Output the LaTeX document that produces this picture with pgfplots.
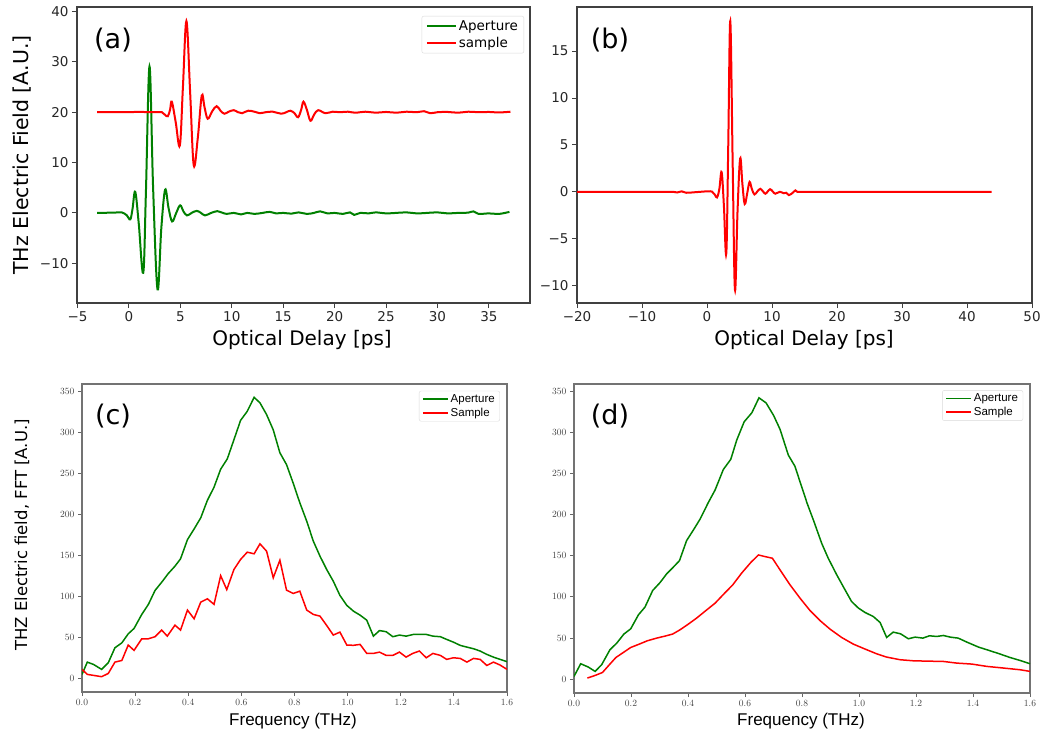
\documentclass[border=0pt]{standalone}
\usepackage{fontspec}
\newfontfamily\djv{DejaVu Sans}
\newfontfamily\lib{Liberation Sans}
\usepackage{pgfplots}
\pgfplotsset{compat=1.18}

\pgfplotsset{
  timepanel/.style={scale only axis, anchor=south west,
    axis line style={black!75, line width=1.1pt},
    tick style={black!75, line width=1pt}, tick align=outside,
    major tick length=5pt, tick pos=left,
    ticklabel style={font=\djv\fontsize{13.5}{16}\selectfont, text=black!85},
    legend cell align=left,
    legend image code/.code={\draw[##1] (0pt,0pt) -- (29pt,0pt);},
    legend style={font=\djv\fontsize{13.5}{15}\selectfont, draw=black!15,
      rounded corners=2pt, inner xsep=4pt, inner ysep=2.5pt, row sep=1pt}},
  fftpanel/.style={scale only axis, anchor=south west,
    axis line style={black!55, line width=1.1pt},
    tick style={black!60, line width=0.8pt}, tick align=outside,
    major tick length=4pt, tick pos=left,
    ticklabel style={font=\rmfamily\fontsize{9.5}{11}\selectfont, text=black!75},
    xtick={0,0.2,...,1.6}, xticklabels={0.0,0.2,0.4,0.6,0.8,1.0,1.2,1.4,1.6},
    ytick={0,50,...,350}, yticklabels={0,50,100,150,200,250,300,350},
    xmin=0, xmax=1.6, ymin=-17, ymax=359,
    legend cell align=left,
    legend image code/.code={\draw[##1] (0pt,0pt) -- (25pt,0pt);},
    legend style={font=\lib\fontsize{11.5}{13}\selectfont, draw=black!15,
      rounded corners=2pt, inner xsep=3pt, inner ysep=1.5pt, row sep=0pt}},
}
\definecolor{mgreen}{HTML}{008000}
\definecolor{mred}{HTML}{FF0000}

\begin{document}
\begin{tikzpicture}[x=1pt,y=1pt]
\path[use as bounding box] (0pt,0pt) rectangle (1043pt,740pt);

% (a) time traces
\begin{axis}[timepanel, at={(77pt,437pt)}, width=453pt, height=296pt,
  xmin=-5.05, xmax=39.0, ymin=-17.9, ymax=40.9,
  xtick={-5,0,...,35}, xticklabels={−5,0,5,10,15,20,25,30,35},
  ytick={-10,0,...,40}, yticklabels={−10,0,10,20,30,40},
  legend style={at={(0.987,0.97)}, anchor=north east}]
\addplot[mgreen, line width=2pt, smooth, tension=0.6] coordinates {
(-3.1,0) (-1.5,0.05) (-0.7,0.1) (-0.2,-0.5) (0.13,-1.3) (0.35,0.8) (0.61,4.2)
(0.95,-2) (1.39,-11.9) (1.65,4) (2.0,29.1) (2.35,5) (2.78,-15.2) (3.15,-3)
(3.52,4.6) (3.85,1) (4.2,-1.7) (4.6,0) (4.98,1.5) (5.3,0.3) (5.65,-0.5) (6.1,0)
(6.6,0.4) (7.0,0) (7.4,-0.5) (8.0,0) (8.6,0.35) (9.0,0.1) (9.5,-0.2) (10.2,0)
(10.9,-0.3) (11.5,0) (12.2,-0.2) (13.0,0) (13.7,0.2) (14.3,-0.1) (15.0,0)
(15.8,-0.15) (16.5,0.1) (17.3,-0.2) (18.0,0) (18.6,0.3) (19.3,-0.1) (20.0,0)
(20.8,-0.2) (21.5,0.1) (21.9,-0.4) (22.5,0) (23.3,-0.1) (24.0,0.1) (25.0,-0.1)
(26.0,0) (27.0,0.1) (28.0,-0.1) (29.0,0) (30.0,0.1) (31.0,-0.1) (32.0,0)
(33.0,0.05) (33.5,0.3) (34.0,-0.2) (35.0,-0.1) (36.0,-0.2) (37.0,0.2)};
\addlegendentry{Aperture}
\addplot[mred, line width=2pt, smooth, tension=0.6] coordinates {
(-3.1,20) (-1,20) (1,20.05) (2.5,20) (3.2,20) (3.5,19.5) (3.78,19.2) (4.0,20.5)
(4.17,22.1) (4.55,18) (4.95,13.4) (5.25,25) (5.59,38.1) (5.95,24) (6.3,9.5)
(6.7,15) (7.08,23.3) (7.35,21) (7.66,18.7) (8.1,20.2) (8.53,21.2) (8.9,20.3)
(9.28,19.7) (9.7,20.1) (10.2,20.4) (10.6,20) (11.0,19.8) (11.6,20.3) (12.2,20.1)
(12.7,19.8) (13.3,20) (14.0,20.1) (14.8,19.7) (15.3,20) (15.7,20.3) (16.1,19.8)
(16.45,19.0) (16.75,20.5) (16.97,22.1) (17.3,20.5) (17.65,18.3) (18.0,19.5)
(18.4,20.4) (19.1,19.8) (19.8,20.1) (20.5,20) (21.3,20.1) (22.0,19.9) (23.0,20.1)
(24.0,19.9) (25.0,20.05) (26.0,19.9) (27.0,20.1) (28.0,20) (28.7,20.2) (29.3,19.8)
(30.0,20) (31.0,20.05) (32.0,19.9) (33.0,20.1) (34.0,20) (35.0,20.05) (36.0,19.95)
(37.1,20.1)};
\addlegendentry{sample}
\end{axis}

% (b) sample trace
\begin{axis}[timepanel, at={(577pt,437pt)}, width=455pt, height=296pt,
  xmin=-20, xmax=50, ymin=-11.85, ymax=19.7,
  xtick={-20,-10,...,50}, xticklabels={−20,−10,0,10,20,30,40,50},
  ytick={-10,-5,...,15}, yticklabels={−10,−5,0,5,10,15}]
\addplot[mred, line width=2pt, smooth, tension=0.6] coordinates {
(-20,0) (-10,0) (-6,0) (-5.2,0) (-4.6,-0.07) (-3.9,0.05) (-3.2,-0.1) (-2,-0.05)
(0,0.05) (0.77,0.02) (1.2,-0.3) (1.54,-0.6) (1.9,0.3) (2.25,2.1) (2.6,-1.5)
(2.97,-6.55) (3.27,5) (3.58,18.2) (3.95,3) (4.3,-10.45) (4.7,-2) (5.1,3.55)
(5.45,0.8) (5.8,-1.3) (6.2,-0.1) (6.55,1.06) (6.9,0.3) (7.3,-0.28) (7.75,0.05)
(8.2,0.32) (8.6,0.05) (8.97,-0.2) (9.3,0) (9.7,0.28) (10.1,0.05) (10.5,-0.2)
(11.2,0) (11.8,-0.15) (12.2,-0.1) (12.6,-0.35) (13.2,-0.1) (13.6,0.15)
(13.9,0) (14.5,0) (16,0) (20,0) (30,0) (43.8,0)};
\end{axis}

% (c) FFT
\begin{axis}[fftpanel, at={(82pt,48pt)}, width=425pt, height=308pt,
  legend style={at={(0.9835,0.978)}, anchor=north east}]
\addplot[mgreen, line width=1.5pt] coordinates {
(0,4.5) (0.02,19.5) (0.043,16.7) (0.074,10.6) (0.099,18.8) (0.124,37) (0.15,43)
(0.174,54) (0.196,60.6) (0.225,77.7) (0.25,90) (0.275,107) (0.3,117) (0.325,127.7)
(0.35,136.6) (0.371,145.6) (0.397,169) (0.422,182) (0.447,195.6) (0.472,217)
(0.497,233) (0.522,255) (0.547,267.6) (0.572,291) (0.597,314.6) (0.622,325.6)
(0.648,342.7) (0.67,336) (0.695,321.6) (0.72,303) (0.745,275) (0.77,260.6)
(0.795,238) (0.82,214) (0.846,191.5) (0.871,167) (0.896,148.8) (0.921,132.6)
(0.946,118.3) (0.971,100.9) (0.997,88.7) (1.022,81.7) (1.047,76.8) (1.072,70.7)
(1.097,51.2) (1.12,58) (1.145,56.6) (1.17,50.5) (1.195,52.5) (1.22,51.2)
(1.248,53.3) (1.296,53.3) (1.321,51.2) (1.349,50.5) (1.373,47.2) (1.398,43.9)
(1.424,39.9) (1.449,37.8) (1.474,35.8) (1.499,33) (1.524,28.9) (1.549,25.6)
(1.574,22.8) (1.6,20)};
\addlegendentry{Aperture}
\addplot[mred, line width=1.5pt] coordinates {
(0,10.6) (0.02,4.5) (0.043,3.3) (0.074,1.7) (0.099,5.7) (0.124,19.5) (0.15,21.5)
(0.174,40.3) (0.196,33.8) (0.225,48) (0.25,48) (0.275,50.5) (0.3,58.6) (0.321,51.2)
(0.35,64.6) (0.371,58.6) (0.397,83) (0.422,72.4) (0.447,92.7) (0.472,96.8)
(0.497,90) (0.522,125) (0.545,108) (0.572,132.6) (0.597,144.8) (0.622,153.7)
(0.648,151.7) (0.67,163.9) (0.695,154.9) (0.72,122.4) (0.745,143.9) (0.77,107.3)
(0.795,103.3) (0.82,106.1) (0.846,83) (0.871,77.7) (0.896,75.6) (0.921,64.3)
(0.946,52.5) (0.971,56.1) (0.997,40.3) (1.022,40) (1.047,41.1) (1.072,30.1)
(1.097,30.1) (1.12,31.7) (1.145,27.7) (1.17,27.7) (1.195,31.7) (1.22,25.6)
(1.245,30.1) (1.27,33) (1.296,24.8) (1.321,30.1) (1.349,27.7) (1.373,22.8)
(1.398,24.8) (1.424,24) (1.449,19.5) (1.474,24) (1.499,22.8) (1.524,15.4)
(1.549,19.5) (1.574,15.9) (1.6,10.6)};
\addlegendentry{Sample}
\end{axis}

% (d) FFT
\begin{axis}[fftpanel, at={(574pt,47pt)}, width=456pt, height=309pt,
  legend style={at={(0.985,0.98)}, anchor=north east}]
\addplot[mgreen, line width=1.5pt] coordinates {
(0,3.2) (0.0235,18.6) (0.05,14.6) (0.074,9.3) (0.097,17.4) (0.126,35.6) (0.15,43.7)
(0.175,54.7) (0.199,61.1) (0.226,78.1) (0.249,87.5) (0.276,107.7) (0.302,117.4)
(0.325,128) (0.348,136) (0.37,144) (0.395,168.4) (0.419,181.4) (0.442,194.4)
(0.471,214.6) (0.495,230) (0.524,255) (0.55,267.3) (0.571,290.8) (0.597,313)
(0.624,324) (0.649,342.2) (0.674,336) (0.7,321) (0.723,303.8) (0.752,272.5)
(0.775,259) (0.795,238) (0.818,213.8) (0.842,191.5) (0.869,165.2) (0.892,147)
(0.922,126.7) (0.951,108.5) (0.974,94.3) (0.998,86.3) (1.021,81) (1.05,76.1)
(1.074,68.8) (1.097,50.6) (1.12,57.1) (1.146,55) (1.173,49) (1.197,51) (1.224,49.8)
(1.247,52.6) (1.273,51.8) (1.296,53) (1.32,51) (1.348,49.8) (1.378,45) (1.419,38.9)
(1.46,34.4) (1.495,30.4) (1.53,26.2) (1.565,22.6) (1.6,18.6)};
\addlegendentry{Aperture}
\addplot[mred, line width=1.5pt] coordinates {
(0.047,1.2) (0.074,4.4) (0.1,8) (0.124,17.4) (0.147,26.2) (0.173,32.3) (0.199,38.4)
(0.229,42.5) (0.257,46.5) (0.29,49.8) (0.319,52.2) (0.346,54.7) (0.372,59.9)
(0.401,66.8) (0.43,74.1) (0.463,83.4) (0.495,92.3) (0.526,103.6) (0.557,114.6)
(0.588,128.8) (0.62,141.7) (0.647,151) (0.67,149) (0.696,147) (0.723,132.8)
(0.758,114.6) (0.793,98.4) (0.828,83.4) (0.863,71.2) (0.898,60.8) (0.939,50.6)
(0.98,42.5) (1.021,36.5) (1.062,30.7) (1.097,26.7) (1.144,23.5) (1.19,22.2)
(1.237,21.8) (1.296,21.4) (1.343,19.4) (1.396,18.2) (1.448,15.4) (1.506,13.4)
(1.565,11.3) (1.6,9.3)};
\addlegendentry{Sample}
\end{axis}

% panel letters and axis titles
\node[font=\djv\fontsize{27}{30}\selectfont] at (113pt,700pt) {(a)};
\node[font=\djv\fontsize{27}{30}\selectfont] at (610pt,700pt) {(b)};
\node[font=\djv\fontsize{27}{30}\selectfont] at (113pt,324pt) {(c)};
\node[font=\djv\fontsize{27}{30}\selectfont] at (610pt,324pt) {(d)};
\node[font=\djv\fontsize{20.5}{24}\selectfont, rotate=90] at (22pt,585pt) {THz Electric Field [A.U.]};
\node[font=\djv\fontsize{20}{24}\selectfont] at (302pt,400pt) {Optical Delay [ps]};
\node[font=\djv\fontsize{20}{24}\selectfont] at (804pt,400pt) {Optical Delay [ps]};
\node[font=\djv\fontsize{16.5}{20}\selectfont, rotate=90] at (22pt,205pt) {THZ Electric field, FFT [A.U.]};
\node[font=\lib\fontsize{17}{20}\selectfont] at (293pt,19pt) {Frequency (THz)};
\node[font=\lib\fontsize{17}{20}\selectfont] at (801pt,19pt) {Frequency (THz)};
\end{tikzpicture}
\end{document}
